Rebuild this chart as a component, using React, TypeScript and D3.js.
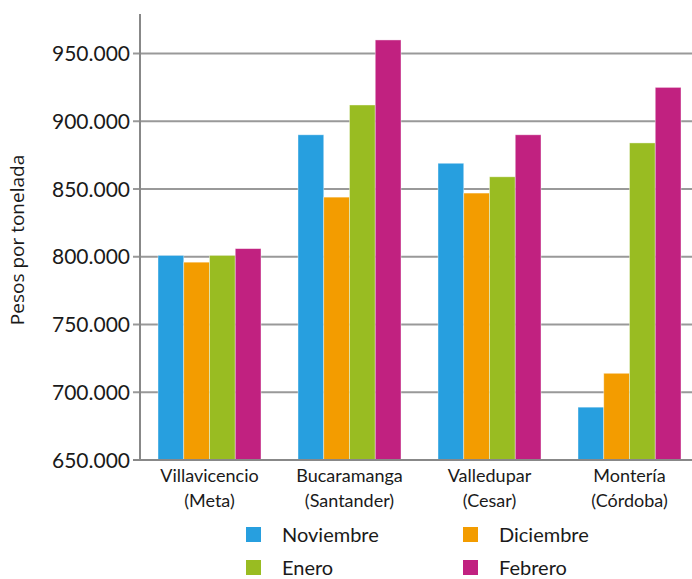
import React, { useRef, useEffect } from 'react';
import * as d3 from 'd3';

// categories (two-line labels) and monthly series
const categories = ['Villavicencio (Meta)', 'Bucaramanga (Santander)', 'Valledupar (Cesar)', 'Montería (Córdoba)'];
const catLines = [['Villavicencio', '(Meta)'], ['Bucaramanga', '(Santander)'], ['Valledupar', '(Cesar)'], ['Montería', '(Córdoba)']];
const months = ['Noviembre', 'Diciembre', 'Enero', 'Febrero'];
const noviembre = [801000, 890000, 869000, 689000];
const diciembre = [796000, 844000, 847000, 714000];
const enero = [801000, 912000, 859000, 884000];
const febrero = [806000, 960000, 890000, 925000];
const yTicks = [650000, 700000, 750000, 800000, 850000, 900000, 950000];
const colors = ['#279FDF', '#F39C00', '#99BC22', '#C12180'];

const App = () => {
  const svgRef = useRef<SVGSVGElement>(null);

  const width = 692;
  const height = 579;
  const font = 'Lato, "Open Sans", sans-serif';

  useEffect(() => {
    const svg = d3.select(svgRef.current);
    svg.selectAll('*').remove();

    const series = [noviembre, diciembre, enero, febrero];

    // y scale: 650.000 at the baseline, axis runs up to ~979.000
    const yScale = d3.scaleLinear().domain([650000, 950000]).range([460, 53.5]);
    const yTop = 14;

    const xGroup = d3.scaleBand().domain(categories).range([140, 700]);
    const xInner = d3.scaleBand().domain(months).range([18, 121]);

    const fmt = (v: number) => d3.format(',')(v).replace(/,/g, '.');

    // gridlines + ticks
    svg.append('g')
      .selectAll('line')
      .data(yTicks.slice(1))
      .join('line')
      .attr('x1', 133)
      .attr('x2', width)
      .attr('y1', (d) => yScale(d))
      .attr('y2', (d) => yScale(d))
      .attr('stroke', '#999')
      .attr('stroke-width', 2);

    // bars
    categories.forEach((c, i) => {
      const g = svg.append('g').attr('transform', `translate(${xGroup(c)},0)`);
      g.selectAll('rect')
        .data(series.map((s, k) => ({ m: months[k], v: s[i], k })))
        .join('rect')
        .attr('x', (d) => xInner(d.m)!)
        .attr('width', xInner.bandwidth())
        .attr('y', (d) => yScale(d.v))
        .attr('height', (d) => yScale(650000) - yScale(d.v))
        .attr('fill', (d) => colors[d.k])
        .attr('stroke', 'rgba(255,255,255,0.5)')
        .attr('stroke-width', 0.8);
    });

    // y axis line
    svg.append('line')
      .attr('x1', 140).attr('x2', 140)
      .attr('y1', yTop).attr('y2', yScale(650000))
      .attr('stroke', '#888').attr('stroke-width', 2);

    // x axis line
    svg.append('line')
      .attr('x1', 133).attr('x2', width)
      .attr('y1', yScale(650000)).attr('y2', yScale(650000))
      .attr('stroke', '#888').attr('stroke-width', 2);

    // y tick labels
    svg.append('g')
      .selectAll('text')
      .data(yTicks)
      .join('text')
      .attr('x', 130)
      .attr('y', (d) => yScale(d) + 7.5)
      .attr('text-anchor', 'end')
      .style('font-family', font)
      .style('font-size', '21px')
      .attr('fill', '#1a1a1a')
      .text((d) => fmt(d));

    // y axis title
    svg.append('text')
      .attr('transform', 'translate(24,240) rotate(-90)')
      .attr('text-anchor', 'middle')
      .style('font-family', '"Open Sans", sans-serif')
      .style('font-size', '19px')
      .attr('fill', '#1a1a1a')
      .text('Pesos por tonelada');

    // category labels
    categories.forEach((c, i) => {
      const cx = xGroup(c)! + (18 + 121) / 2;
      catLines[i].forEach((ln, j) => {
        svg.append('text')
          .attr('x', cx)
          .attr('y', 482 + j * 25)
          .attr('text-anchor', 'middle')
          .style('font-family', font)
          .style('font-size', '18px')
          .attr('fill', '#1a1a1a')
          .text(ln);
      });
    });

    // legend
    const legendPos = [
      { x: 246, y: 527 },
      { x: 463, y: 527 },
      { x: 246, y: 560 },
      { x: 463, y: 560 },
    ];
    months.forEach((m, k) => {
      const p = legendPos[k];
      svg.append('rect')
        .attr('x', p.x).attr('y', p.y)
        .attr('width', 15).attr('height', 15)
        .attr('fill', colors[k]);
      svg.append('text')
        .attr('x', p.x + 36)
        .attr('y', p.y + 15)
        .style('font-family', font)
        .style('font-size', '20px')
        .attr('fill', '#1a1a1a')
        .text(m);
    });
  }, []);

  return (
    <svg
      ref={svgRef}
      width={width}
      height={height}
      style={{ position: 'absolute', left: 0, top: 0, background: '#fff' }}
    />
  );
};

export default App;
